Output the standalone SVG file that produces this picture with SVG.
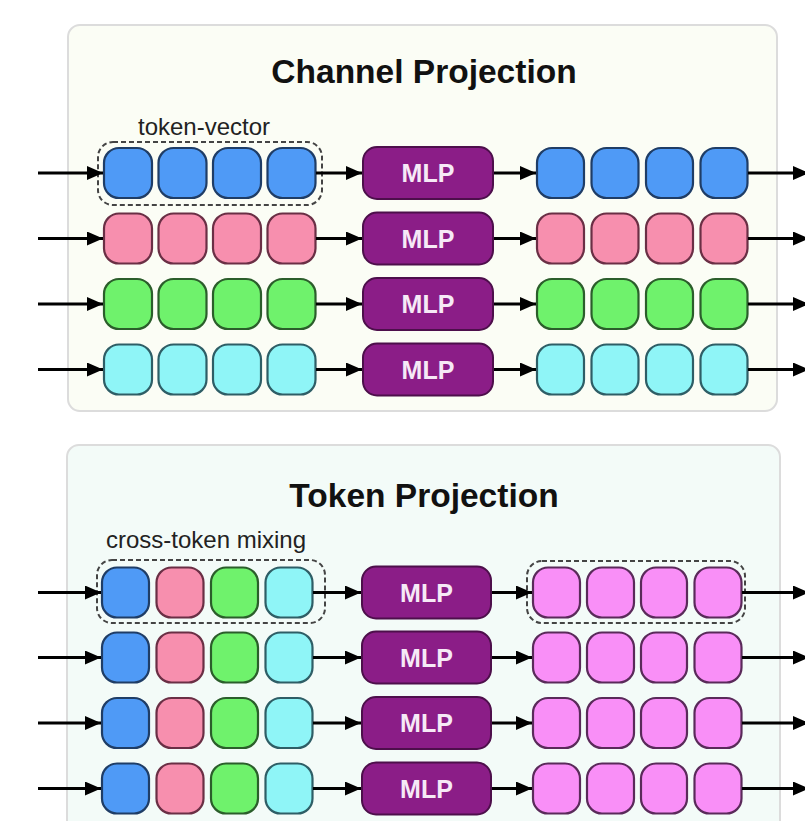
<svg xmlns="http://www.w3.org/2000/svg" width="805" height="821" viewBox="0 0 805 821">
<defs>
<marker id="ah" markerUnits="userSpaceOnUse" markerWidth="16" markerHeight="14" refX="16" refY="7" orient="auto">
<path d="M0,0 L16,7 L0,14 z" fill="#000"/>
</marker>
<style>
.panel{stroke:#dcdcdc;stroke-width:2}
.title{font-family:"Liberation Sans",Arial,sans-serif;font-weight:bold;font-size:33.5px;fill:#111;text-anchor:middle}
.lbl{font-family:"Liberation Sans",Arial,sans-serif;font-size:24px;fill:#222}
.c{stroke-width:2.2}
.b{fill:#4f9af6;stroke:#1f3d66}
.p{fill:#f78fae;stroke:#6a2f45}
.g{fill:#6ff26c;stroke:#2b5e2b}
.y{fill:#8ff5f7;stroke:#2e5e66}
.m{fill:#f98ff7;stroke:#5a2a5a}
.mlp rect{fill:#8b1d87;stroke:#4d0f4b;stroke-width:2}
.mlp text{font-family:"Liberation Sans",Arial,sans-serif;font-weight:bold;font-size:25px;fill:#f6e9f6;text-anchor:middle}
.dash{fill:none;stroke:#444;stroke-width:2;stroke-dasharray:5 3}
.conn line{stroke:#000;stroke-width:2.8;marker-end:url(#ah)}
</style>
</defs>

<g id="panel-channel">
<rect class="panel" x="68" y="25" width="709" height="386" rx="12" fill="#fbfdf5"/>
<text class="title" x="424" y="83">Channel Projection</text>
<text class="lbl" x="138" y="135">token-vector</text>
</g>
<g id="panel-token">
<rect class="panel" x="67" y="445" width="713" height="400" rx="12" fill="#f3fbf8"/>
<text class="title" x="424" y="507">Token Projection</text>
<text class="lbl" x="106" y="548">cross-token mixing</text>
</g>

<!-- Channel projection rows -->
<g id="ch-in-1"><rect class="c b" x="104" y="148" width="48" height="50" rx="15"/><rect class="c b" x="158.5" y="148" width="48" height="50" rx="15"/><rect class="c b" x="213" y="148" width="48" height="50" rx="15"/><rect class="c b" x="267.5" y="148" width="48" height="50" rx="15"/></g>
<g id="ch-in-2"><rect class="c p" x="104" y="213.5" width="48" height="50" rx="15"/><rect class="c p" x="158.5" y="213.5" width="48" height="50" rx="15"/><rect class="c p" x="213" y="213.5" width="48" height="50" rx="15"/><rect class="c p" x="267.5" y="213.5" width="48" height="50" rx="15"/></g>
<g id="ch-in-3"><rect class="c g" x="104" y="279" width="48" height="50" rx="15"/><rect class="c g" x="158.5" y="279" width="48" height="50" rx="15"/><rect class="c g" x="213" y="279" width="48" height="50" rx="15"/><rect class="c g" x="267.5" y="279" width="48" height="50" rx="15"/></g>
<g id="ch-in-4"><rect class="c y" x="104" y="344.5" width="48" height="50" rx="15"/><rect class="c y" x="158.5" y="344.5" width="48" height="50" rx="15"/><rect class="c y" x="213" y="344.5" width="48" height="50" rx="15"/><rect class="c y" x="267.5" y="344.5" width="48" height="50" rx="15"/></g>
<g id="ch-dash"><rect class="dash" x="98" y="142" width="224" height="63" rx="15"/></g>

<g id="ch-mlp-1" class="mlp"><rect x="363" y="147" width="130" height="52" rx="14"/><text x="428" y="182">MLP</text></g>
<g id="ch-mlp-2" class="mlp"><rect x="363" y="212.5" width="130" height="52" rx="14"/><text x="428" y="247.5">MLP</text></g>
<g id="ch-mlp-3" class="mlp"><rect x="363" y="278" width="130" height="52" rx="14"/><text x="428" y="313">MLP</text></g>
<g id="ch-mlp-4" class="mlp"><rect x="363" y="343.5" width="130" height="52" rx="14"/><text x="428" y="378.5">MLP</text></g>

<g id="ch-out-1"><rect class="c b" x="537" y="148" width="47" height="50" rx="15"/><rect class="c b" x="591.5" y="148" width="47" height="50" rx="15"/><rect class="c b" x="646" y="148" width="47" height="50" rx="15"/><rect class="c b" x="700.5" y="148" width="47" height="50" rx="15"/></g>
<g id="ch-out-2"><rect class="c p" x="537" y="213.5" width="47" height="50" rx="15"/><rect class="c p" x="591.5" y="213.5" width="47" height="50" rx="15"/><rect class="c p" x="646" y="213.5" width="47" height="50" rx="15"/><rect class="c p" x="700.5" y="213.5" width="47" height="50" rx="15"/></g>
<g id="ch-out-3"><rect class="c g" x="537" y="279" width="47" height="50" rx="15"/><rect class="c g" x="591.5" y="279" width="47" height="50" rx="15"/><rect class="c g" x="646" y="279" width="47" height="50" rx="15"/><rect class="c g" x="700.5" y="279" width="47" height="50" rx="15"/></g>
<g id="ch-out-4"><rect class="c y" x="537" y="344.5" width="47" height="50" rx="15"/><rect class="c y" x="591.5" y="344.5" width="47" height="50" rx="15"/><rect class="c y" x="646" y="344.5" width="47" height="50" rx="15"/><rect class="c y" x="700.5" y="344.5" width="47" height="50" rx="15"/></g>

<!-- Token projection rows -->
<g id="tk-in-1"><rect class="c b" x="102" y="567.5" width="47" height="50" rx="15"/><rect class="c p" x="156.5" y="567.5" width="47" height="50" rx="15"/><rect class="c g" x="211" y="567.5" width="47" height="50" rx="15"/><rect class="c y" x="265.5" y="567.5" width="47" height="50" rx="15"/></g>
<g id="tk-in-2"><rect class="c b" x="102" y="632.5" width="47" height="50" rx="15"/><rect class="c p" x="156.5" y="632.5" width="47" height="50" rx="15"/><rect class="c g" x="211" y="632.5" width="47" height="50" rx="15"/><rect class="c y" x="265.5" y="632.5" width="47" height="50" rx="15"/></g>
<g id="tk-in-3"><rect class="c b" x="102" y="698" width="47" height="50" rx="15"/><rect class="c p" x="156.5" y="698" width="47" height="50" rx="15"/><rect class="c g" x="211" y="698" width="47" height="50" rx="15"/><rect class="c y" x="265.5" y="698" width="47" height="50" rx="15"/></g>
<g id="tk-in-4"><rect class="c b" x="102" y="763.5" width="47" height="50" rx="15"/><rect class="c p" x="156.5" y="763.5" width="47" height="50" rx="15"/><rect class="c g" x="211" y="763.5" width="47" height="50" rx="15"/><rect class="c y" x="265.5" y="763.5" width="47" height="50" rx="15"/></g>
<g id="tk-dash-in"><rect class="dash" x="97" y="560" width="228" height="63" rx="15"/></g>

<g id="tk-mlp-1" class="mlp"><rect x="362" y="566.5" width="129" height="52" rx="14"/><text x="426.5" y="601.5">MLP</text></g>
<g id="tk-mlp-2" class="mlp"><rect x="362" y="631.5" width="129" height="52" rx="14"/><text x="426.5" y="666.5">MLP</text></g>
<g id="tk-mlp-3" class="mlp"><rect x="362" y="697" width="129" height="52" rx="14"/><text x="426.5" y="732">MLP</text></g>
<g id="tk-mlp-4" class="mlp"><rect x="362" y="762.5" width="129" height="52" rx="14"/><text x="426.5" y="797.5">MLP</text></g>

<g id="tk-out-1"><rect class="c m" x="533" y="567.5" width="47" height="50" rx="15"/><rect class="c m" x="587" y="567.5" width="47" height="50" rx="15"/><rect class="c m" x="641" y="567.5" width="46" height="50" rx="15"/><rect class="c m" x="694.5" y="567.5" width="47" height="50" rx="15"/></g>
<g id="tk-out-2"><rect class="c m" x="533" y="632.5" width="47" height="50" rx="15"/><rect class="c m" x="587" y="632.5" width="47" height="50" rx="15"/><rect class="c m" x="641" y="632.5" width="46" height="50" rx="15"/><rect class="c m" x="694.5" y="632.5" width="47" height="50" rx="15"/></g>
<g id="tk-out-3"><rect class="c m" x="533" y="698" width="47" height="50" rx="15"/><rect class="c m" x="587" y="698" width="47" height="50" rx="15"/><rect class="c m" x="641" y="698" width="46" height="50" rx="15"/><rect class="c m" x="694.5" y="698" width="47" height="50" rx="15"/></g>
<g id="tk-out-4"><rect class="c m" x="533" y="763.5" width="47" height="50" rx="15"/><rect class="c m" x="587" y="763.5" width="47" height="50" rx="15"/><rect class="c m" x="641" y="763.5" width="46" height="50" rx="15"/><rect class="c m" x="694.5" y="763.5" width="47" height="50" rx="15"/></g>
<g id="tk-dash-out"><rect class="dash" x="527" y="561" width="218" height="62" rx="15"/></g>

<g id="connectors" class="conn">
<line x1="38" y1="173" x2="103" y2="173"/><line x1="316" y1="173" x2="362" y2="173"/><line x1="494" y1="173" x2="536" y2="173"/><line x1="748" y1="173" x2="809" y2="173"/>
<line x1="38" y1="238.5" x2="103" y2="238.5"/><line x1="316" y1="238.5" x2="362" y2="238.5"/><line x1="494" y1="238.5" x2="536" y2="238.5"/><line x1="748" y1="238.5" x2="809" y2="238.5"/>
<line x1="38" y1="304" x2="103" y2="304"/><line x1="316" y1="304" x2="362" y2="304"/><line x1="494" y1="304" x2="536" y2="304"/><line x1="748" y1="304" x2="809" y2="304"/>
<line x1="38" y1="369.5" x2="103" y2="369.5"/><line x1="316" y1="369.5" x2="362" y2="369.5"/><line x1="494" y1="369.5" x2="536" y2="369.5"/><line x1="748" y1="369.5" x2="809" y2="369.5"/>
<line x1="38" y1="592.5" x2="101" y2="592.5"/><line x1="313" y1="592.5" x2="361" y2="592.5"/><line x1="492" y1="592.5" x2="532" y2="592.5"/><line x1="742" y1="592.5" x2="809" y2="592.5"/>
<line x1="38" y1="657.5" x2="101" y2="657.5"/><line x1="313" y1="657.5" x2="361" y2="657.5"/><line x1="492" y1="657.5" x2="532" y2="657.5"/><line x1="742" y1="657.5" x2="809" y2="657.5"/>
<line x1="38" y1="723" x2="101" y2="723"/><line x1="313" y1="723" x2="361" y2="723"/><line x1="492" y1="723" x2="532" y2="723"/><line x1="742" y1="723" x2="809" y2="723"/>
<line x1="38" y1="788.5" x2="101" y2="788.5"/><line x1="313" y1="788.5" x2="361" y2="788.5"/><line x1="492" y1="788.5" x2="532" y2="788.5"/><line x1="742" y1="788.5" x2="809" y2="788.5"/>
</g>
</svg>
